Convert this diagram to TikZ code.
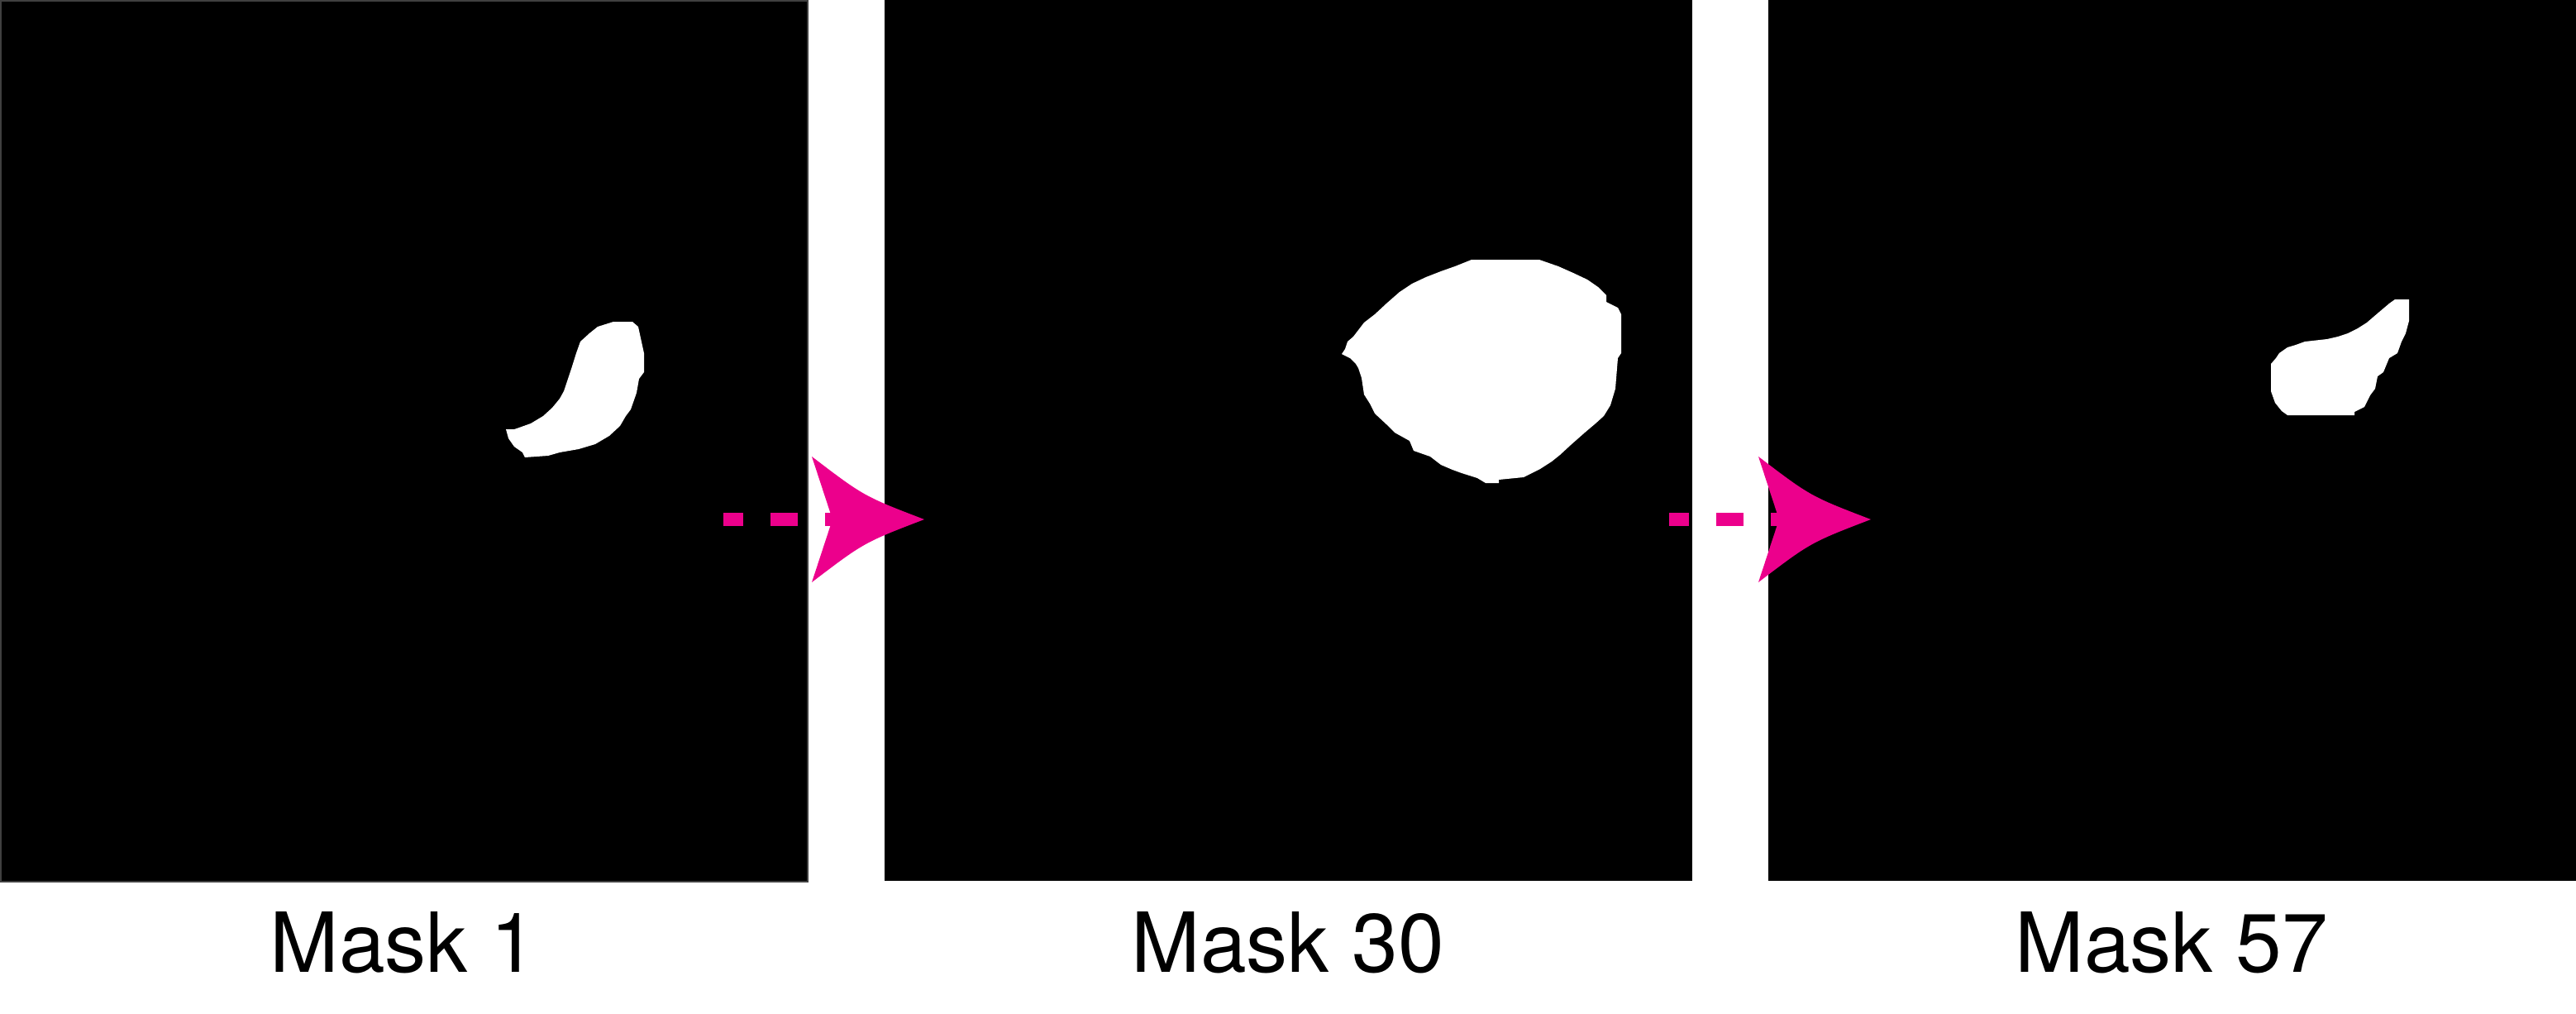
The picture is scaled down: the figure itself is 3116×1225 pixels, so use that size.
\documentclass[tikz,border=0pt]{standalone}
\usepackage{fontspec}
\setmainfont{TeX Gyre Heros}
\usetikzlibrary{calc}
\definecolor{mag}{RGB}{236,0,140}
\begin{document}
\begin{tikzpicture}[x=0.1mm,y=-0.1mm,
  panel/.style={fill=black, inner sep=0pt, outer sep=0pt, minimum height=106.5mm, anchor=north west},
  lab/.style={anchor=base, inner sep=0pt, font=\fontsize{28.5}{34}\selectfont},
  dashline/.style={draw=mag, line width=1.6mm, dash pattern=on 3.3mm off 3.3mm, dash phase=0.9mm},
  blob/.style={fill=white}
]
\useasboundingbox[fill=white] (0,0) rectangle (3116,1225);
% panels
\node[panel, minimum width=97.6mm, draw=black!75, line width=0.2mm] (p1) at (1,1) {};
\node[panel, minimum width=97.7mm] (p2) at (1070,0) {};
\node[panel, minimum width=97.7mm] (p3) at (2139,0) {};
% blob 1
\fill[blob] (742,389) -- (765,389) -- (772,395) -- (779,427) -- (779,450) -- (773,458) -- (770,475) -- (763,495) -- (757,503) -- (750,515) -- (737,527) -- (720,537) -- (700,543) -- (677,547) -- (663,551) -- (635,553) -- (632,547) -- (622,540) -- (615,530) -- (612,519) -- (622,519) -- (628,517) -- (642,512) -- (657,503) -- (668,493) -- (677,482) -- (682,473) -- (687,458) -- (692,443) -- (697,427) -- (702,413) -- (713,403) -- (723,395) -- cycle;
% blob 2
\fill[blob] (1780,314) -- (1862,314) -- (1885,322) -- (1903,330) -- (1920,338) -- (1933,347) -- (1943,357) -- (1943,365) -- (1957,372) -- (1961,380) -- (1961,427) -- (1957,433) -- (1954,470) -- (1948,490) -- (1940,503) -- (1930,512) -- (1917,523) -- (1900,538) -- (1887,550) -- (1877,558) -- (1863,567) -- (1843,577) -- (1813,580) -- (1813,584) -- (1797,584) -- (1787,578) -- (1768,572) -- (1757,568) -- (1743,562) -- (1730,552) -- (1710,545) -- (1705,533) -- (1687,523) -- (1677,513) -- (1663,500) -- (1657,488) -- (1650,477) -- (1647,457) -- (1643,445) -- (1640,440) -- (1633,433) -- (1623,428) -- (1627,422) -- (1630,413) -- (1637,407) -- (1650,390) -- (1663,380) -- (1677,367) -- (1693,353) -- (1708,343) -- (1725,335) -- (1743,328) -- (1760,322) -- cycle;
% blob 3
\fill[blob] (2897,362) -- (2914,362) -- (2914,388) -- (2910,403) -- (2905,413) -- (2900,427) -- (2890,433) -- (2883,450) -- (2876,455) -- (2873,470) -- (2867,478) -- (2860,492) -- (2848,498) -- (2848,502) -- (2767,502) -- (2760,497) -- (2752,487) -- (2747,473) -- (2747,440) -- (2753,433) -- (2757,427) -- (2767,420) -- (2777,417) -- (2788,413) -- (2815,410) -- (2828,407) -- (2840,403) -- (2852,397) -- (2863,390) -- (2877,378) -- (2890,367) -- cycle;
% labels
\node[lab] (l1) at (488,1175) {Mask 1};
\node[lab] (l2) at (1558,1175) {Mask 30};
\node[lab] (l3) at (2627,1175) {Mask 57};
% arrows
\coordinate (a1s) at (875,628);
\coordinate (a1t) at (1118,628);
\coordinate (a2s) at (2019,628);
\coordinate (a2t) at (2263,628);
\foreach \s/\t in {a1s/a1t, a2s/a2t}{
  \draw[dashline] (\s) -- ($(\t)+(-111,0)$);
  \fill[mag] (\t) .. controls ($(\t)+(-73,-28)$) .. ($(\t)+(-136,-76)$) -- ($(\t)+(-111,0)$) -- ($(\t)+(-136,76)$) .. controls ($(\t)+(-73,28)$) .. (\t) -- cycle;
}
\end{tikzpicture}
\end{document}
